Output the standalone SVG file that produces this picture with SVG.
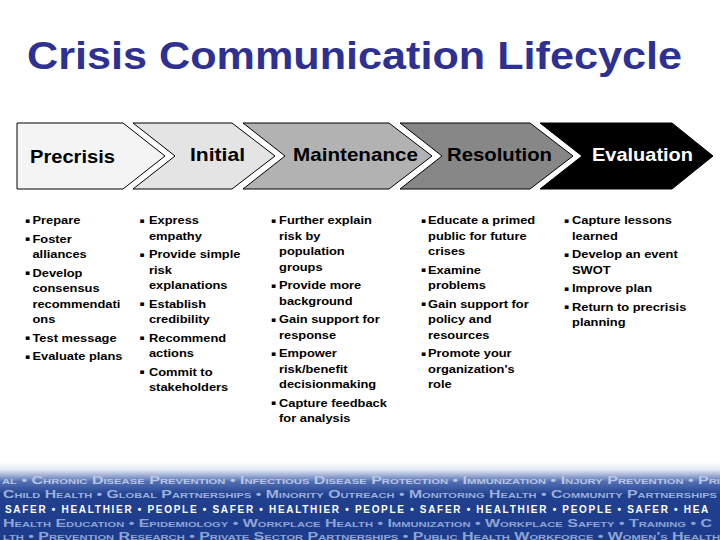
<svg xmlns="http://www.w3.org/2000/svg" width="720" height="540" viewBox="0 0 720 540">
<defs>
<linearGradient id="band" x1="0" y1="0" x2="0" y2="1">
<stop offset="0" stop-color="#ffffff"/>
<stop offset="0.1" stop-color="#e4e9f3"/>
<stop offset="0.25" stop-color="#5470b4"/>
<stop offset="0.42" stop-color="#21418f"/>
<stop offset="1" stop-color="#1c3b8b"/>
</linearGradient>
<style>
.title{font-family:"Liberation Sans",Arial,sans-serif;font-weight:bold;font-size:38px;fill:#2f3192}
.chev{stroke:#000;stroke-width:1}
.lbl{font-family:"Liberation Sans",Arial,sans-serif;font-weight:bold;font-size:18.5px;fill:#000}
.body{font-family:"Liberation Sans",Arial,sans-serif;font-weight:bold;font-size:11.7px;fill:#000}
.bul{font-family:"DejaVu Sans",sans-serif;font-size:7px;fill:#000}
.band{font-family:"Liberation Sans",Arial,sans-serif;font-weight:bold;font-size:10px;font-variant:small-caps}
</style>
</defs>
<rect width="720" height="540" fill="#fff"/>
<text class="title" x="27" y="68.5" textLength="655" lengthAdjust="spacingAndGlyphs">Crisis Communication Lifecycle</text>

<g id="precrisis">
<polygon class="chev" fill="#f4f4f4" points="17,123 123,123 165,156 123,189 17,189"/>
<text class="lbl" x="30" y="162.5" textLength="85" lengthAdjust="spacingAndGlyphs">Precrisis</text>
</g>
<g id="initial">
<polygon class="chev" fill="#e4e4e4" points="133,123 232,123 275,156 232,189 133,189 175,156"/>
<text class="lbl" x="190" y="160.5" textLength="55" lengthAdjust="spacingAndGlyphs">Initial</text>
</g>
<g id="maintenance">
<polygon class="chev" fill="#b2b2b2" points="243,123 389,123 432,156 389,189 243,189 285,156"/>
<text class="lbl" x="293" y="160.5" textLength="125" lengthAdjust="spacingAndGlyphs">Maintenance</text>
</g>
<g id="resolution">
<polygon class="chev" fill="#878787" points="400,123 530,123 573,156 530,189 400,189 442,156"/>
<text class="lbl" x="447" y="160.5" textLength="105" lengthAdjust="spacingAndGlyphs">Resolution</text>
</g>
<g id="evaluation">
<polygon class="chev" fill="#000" points="540,123 672,123 713,156 672,189 540,189 582,156"/>
<text class="lbl" x="592" y="160.5" textLength="101" lengthAdjust="spacingAndGlyphs" style="fill:#fff">Evaluation</text>
</g>

<g id="col-precrisis" transform="translate(25 0) scale(1.1 1)">
<text class="bul" x="0" y="223">▪</text><text class="body" x="6.8" y="224.5">Prepare</text>
<text class="bul" x="0" y="241.5">▪</text><text class="body" x="6.8" y="243">Foster</text>
<text class="body" x="6.8" y="258.5">alliances</text>
<text class="bul" x="0" y="275.5">▪</text><text class="body" x="6.8" y="277">Develop</text>
<text class="body" x="6.8" y="292.5">consensus</text>
<text class="body" x="6.8" y="308">recommendati</text>
<text class="body" x="6.8" y="323.5">ons</text>
<text class="bul" x="0" y="340.5">▪</text><text class="body" x="6.8" y="342">Test message</text>
<text class="bul" x="0" y="359">▪</text><text class="body" x="6.8" y="360.5">Evaluate plans</text>
</g>

<g id="col-initial" transform="translate(139.5 0) scale(1.1 1)">
<text class="bul" x="0" y="223">▪</text><text class="body" x="8.6" y="224.5">Express</text>
<text class="body" x="8.6" y="240">empathy</text>
<text class="bul" x="0" y="257">▪</text><text class="body" x="8.6" y="258.5">Provide simple</text>
<text class="body" x="8.6" y="274">risk</text>
<text class="body" x="8.6" y="289.5">explanations</text>
<text class="bul" x="0" y="306.5">▪</text><text class="body" x="8.6" y="308">Establish</text>
<text class="body" x="8.6" y="323.5">credibility</text>
<text class="bul" x="0" y="340.5">▪</text><text class="body" x="8.6" y="342">Recommend</text>
<text class="body" x="8.6" y="357.5">actions</text>
<text class="bul" x="0" y="374.5">▪</text><text class="body" x="8.6" y="376">Commit to</text>
<text class="body" x="8.6" y="391.5">stakeholders</text>
</g>

<g id="col-maintenance" transform="translate(271 0) scale(1.1 1)">
<text class="bul" x="0" y="223">▪</text><text class="body" x="7.3" y="224.5">Further explain</text>
<text class="body" x="7.3" y="240">risk by</text>
<text class="body" x="7.3" y="255.5">population</text>
<text class="body" x="7.3" y="271">groups</text>
<text class="bul" x="0" y="288">▪</text><text class="body" x="7.3" y="289.5">Provide more</text>
<text class="body" x="7.3" y="305">background</text>
<text class="bul" x="0" y="322">▪</text><text class="body" x="7.3" y="323.5">Gain support for</text>
<text class="body" x="7.3" y="339">response</text>
<text class="bul" x="0" y="356">▪</text><text class="body" x="7.3" y="357.5">Empower</text>
<text class="body" x="7.3" y="373">risk/benefit</text>
<text class="body" x="7.3" y="388.5">decisionmaking</text>
<text class="bul" x="0" y="405.5">▪</text><text class="body" x="7.3" y="407">Capture feedback</text>
<text class="body" x="7.3" y="422.5">for analysis</text>
</g>

<g id="col-resolution" transform="translate(421 0) scale(1.1 1)">
<text class="bul" x="0" y="223">▪</text><text class="body" x="6.4" y="224.5">Educate a primed</text>
<text class="body" x="6.4" y="240">public for future</text>
<text class="body" x="6.4" y="255.5">crises</text>
<text class="bul" x="0" y="272.5">▪</text><text class="body" x="6.4" y="274">Examine</text>
<text class="body" x="6.4" y="289.5">problems</text>
<text class="bul" x="0" y="306.5">▪</text><text class="body" x="6.4" y="308">Gain support for</text>
<text class="body" x="6.4" y="323.5">policy and</text>
<text class="body" x="6.4" y="339">resources</text>
<text class="bul" x="0" y="356">▪</text><text class="body" x="6.4" y="357.5">Promote your</text>
<text class="body" x="6.4" y="373">organization's</text>
<text class="body" x="6.4" y="388.5">role</text>
</g>

<g id="col-evaluation" transform="translate(564 0) scale(1.1 1)">
<text class="bul" x="0" y="223">▪</text><text class="body" x="7.3" y="224.5">Capture lessons</text>
<text class="body" x="7.3" y="240">learned</text>
<text class="bul" x="0" y="257">▪</text><text class="body" x="7.3" y="258.5">Develop an event</text>
<text class="body" x="7.3" y="274">SWOT</text>
<text class="bul" x="0" y="291">▪</text><text class="body" x="7.3" y="292.5">Improve plan</text>
<text class="bul" x="0" y="309.5">▪</text><text class="body" x="7.3" y="311">Return to precrisis</text>
<text class="body" x="7.3" y="326.5">planning</text>
</g>

<g id="banner">
<rect x="0" y="462" width="720" height="78" fill="url(#band)"/>
<text class="band" x="2" y="483.5" textLength="718" lengthAdjust="spacingAndGlyphs" fill="#b9c5e4">al • Chronic Disease Prevention • Infectious Disease Protection • Immunization • Injury Prevention • Pri</text>
<text class="band" x="3" y="497.5" textLength="714" lengthAdjust="spacingAndGlyphs" fill="#9db0de">Child Health • Global Partnerships • Minority Outreach • Monitoring Health • Community Partnerships</text>
<text class="band" x="5" y="512.5" letter-spacing="1.7" fill="#ffffff">SAFER • HEALTHIER • PEOPLE • SAFER • HEALTHIER • PEOPLE • SAFER • HEALTHIER • PEOPLE • SAFER • HEA</text>
<text class="band" x="3" y="526.5" textLength="709" lengthAdjust="spacingAndGlyphs" fill="#8fa4d6">Health Education • Epidemiology • Workplace Health • Immunization • Workplace Safety • Training • C</text>
<text class="band" x="3" y="539.5" textLength="717" lengthAdjust="spacingAndGlyphs" fill="#8fa4d6">lth • Prevention Research • Private Sector Partnerships • Public Health Workforce • Women's Health</text>
</g>
</svg>
